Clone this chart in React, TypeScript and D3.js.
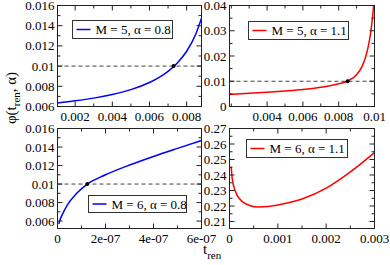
import React from 'react';
import * as d3 from 'd3';

// ---- data ----
// Top-left: M = 5, alpha = 0.8
const TL_T = [0.00105, 0.002, 0.003, 0.004, 0.005, 0.006, 0.0065, 0.007, 0.0075, 0.008, 0.0085, 0.0088];
const TL_PHI = [0.00635, 0.00656, 0.00683, 0.00719, 0.00767, 0.00838, 0.00886, 0.00948, 0.01031, 0.01147, 0.01321, 0.01475];
// Top-right: M = 5, alpha = 1.1
const TR_T = [0.0019, 0.003, 0.004, 0.005, 0.006, 0.007, 0.0075, 0.008, 0.0085, 0.009, 0.0093, 0.0095, 0.0097, 0.0098, 0.0099, 0.00995, 0.01];
const TR_PHI = [0.0048, 0.0052, 0.0056, 0.0061, 0.0067, 0.0076, 0.0082, 0.009, 0.0101, 0.0126, 0.0158, 0.0195, 0.0255, 0.03, 0.036, 0.04, 0.046];
// Bottom-left: M = 6, alpha = 0.8
const BL_T = [0.054e-7, 0.1e-7, 0.2e-7, 0.4e-7, 0.8e-7, 1.24e-7, 2e-7, 3e-7, 4e-7, 5e-7, 6e-7];
const BL_PHI = [0.0057, 0.0061, 0.0067, 0.0077, 0.009, 0.01, 0.011, 0.01205, 0.01298, 0.01385, 0.0147];
// Bottom-right: M = 6, alpha = 1.1
const BR_T = [0.000035, 0.000055, 0.000123, 0.000226, 0.00043, 0.0006, 0.0008, 0.001, 0.0015, 0.002, 0.0025, 0.003];
const BR_PHI = [0.2453, 0.238, 0.2293, 0.224, 0.2202, 0.2194, 0.2197, 0.2207, 0.2245, 0.2315, 0.242, 0.2545];

// intersection markers (t, phi)
const TL_DOT = [0.0073, 0.01];
const TR_DOT = [0.0085, 0.01];
const BL_DOT = [1.24e-7, 0.01];

// tick values and labels
const TL_XTICKS = [0.002, 0.004, 0.006, 0.008];
const TL_XLABELS = ['0.002', '0.004', '0.006', '0.008'];
const TL_YTICKS = [0.006, 0.008, 0.01, 0.012, 0.014, 0.016];
const TL_YLABELS = ['0.006', '0.008', '0.01', '0.012', '0.014', '0.016'];

const TR_XTICKS = [0.004, 0.006, 0.008, 0.01];
const TR_XLABELS = ['0.004', '0.006', '0.008', '0.01'];
const TR_YTICKS = [0, 0.01, 0.02, 0.03, 0.04];
const TR_YLABELS = ['0', '0.01', '0.02', '0.03', '0.04'];

const BL_XTICKS = [0, 2e-7, 4e-7, 6e-7];
const BL_XLABELS = ['0', '2e-07', '4e-07', '6e-07'];
const BL_YTICKS = [0.006, 0.008, 0.01, 0.012, 0.014, 0.016];
const BL_YLABELS = ['0.006', '0.008', '0.01', '0.012', '0.014', '0.016'];

const BR_XTICKS = [0, 0.001, 0.002, 0.003];
const BR_XLABELS = ['0', '0.001', '0.002', '0.003'];
const BR_YTICKS = [0.21, 0.22, 0.23, 0.24, 0.25, 0.26, 0.27];
const BR_YLABELS = ['0.21', '0.22', '0.23', '0.24', '0.25', '0.26', '0.27'];

const LEGENDS = ['M = 5, α = 0.8', 'M = 5, α = 1.1', 'M = 6, α = 0.8', 'M = 6, α = 1.1'];

const FONT = 'Liberation Serif';
const BLUE = '#0000ff';
const RED = '#ff0000';
const FRAME = '#222';

type PanelProps = {
  id: string;
  box: [number, number, number, number]; // x0, y0, x1, y1
  xDomain: [number, number];
  yDomain: [number, number];
  ts: number[];
  phis: number[];
  color: string;
  xTicks: number[];
  xLabels: string[];
  xMinorStep: number;
  yTicks: number[];
  yLabels: string[];
  yMinorStep: number;
  dashed: boolean;
  dot?: number[];
  legend: string;
  legendBox: [number, number, number, number];
};

function minorTicks(domain: [number, number], step: number, majors: number[]) {
  const out: number[] = [];
  const start = Math.ceil(domain[0] / step - 1e-9);
  const end = Math.floor(domain[1] / step + 1e-9);
  for (let i = start; i <= end; i++) {
    const v = i * step;
    if (!majors.some((m) => Math.abs(m - v) < step * 1e-3)) out.push(v);
  }
  return out;
}

function Panel(p: PanelProps) {
  const [x0, y0, x1, y1] = p.box;
  const xs = d3.scaleLinear().domain(p.xDomain).range([x0, x1]);
  const ys = d3.scaleLinear().domain(p.yDomain).range([y1, y0]);
  const line = d3
    .line<number>()
    .x((_, i) => xs(p.ts[i]))
    .y((d) => ys(d))
    .curve(d3.curveMonotoneX);
  const xMinor = minorTicks(p.xDomain, p.xMinorStep, p.xTicks);
  const yMinor = minorTicks(p.yDomain, p.yMinorStep, p.yTicks);
  const MAJ = 5;
  const MIN = 3;
  const [lx, ly, lw, lh] = p.legendBox;
  return (
    <g>
      <defs>
        <clipPath id={p.id}>
          <rect x={x0} y={y0} width={x1 - x0} height={y1 - y0} />
        </clipPath>
      </defs>
      {p.dashed && (
        <line
          x1={x0}
          x2={x1}
          y1={ys(0.01)}
          y2={ys(0.01)}
          stroke="#444"
          strokeWidth={1}
          strokeDasharray="4,3"
        />
      )}
      <path d={line(p.phis) || ''} fill="none" stroke={p.color} strokeWidth={1.5} clipPath={`url(#${p.id})`} />
      {p.dot && <circle cx={xs(p.dot[0])} cy={ys(p.dot[1])} r={2} fill="#000" />}
      <g stroke={FRAME} strokeWidth={1}>
        {p.xTicks.map((t, i) => (
          <g key={'xm' + i}>
            <line x1={xs(t)} x2={xs(t)} y1={y1} y2={y1 - MAJ} />
            <line x1={xs(t)} x2={xs(t)} y1={y0} y2={y0 + MAJ} />
          </g>
        ))}
        {xMinor.map((t, i) => (
          <g key={'xn' + i}>
            <line x1={xs(t)} x2={xs(t)} y1={y1} y2={y1 - MIN} />
            <line x1={xs(t)} x2={xs(t)} y1={y0} y2={y0 + MIN} />
          </g>
        ))}
        {p.yTicks.map((t, i) => (
          <g key={'ym' + i}>
            <line x1={x0} x2={x0 + MAJ} y1={ys(t)} y2={ys(t)} />
            <line x1={x1} x2={x1 - MAJ} y1={ys(t)} y2={ys(t)} />
          </g>
        ))}
        {yMinor.map((t, i) => (
          <g key={'yn' + i}>
            <line x1={x0} x2={x0 + MIN} y1={ys(t)} y2={ys(t)} />
            <line x1={x1} x2={x1 - MIN} y1={ys(t)} y2={ys(t)} />
          </g>
        ))}
      </g>
      <rect x={x0} y={y0} width={x1 - x0} height={y1 - y0} fill="none" stroke={FRAME} strokeWidth={1} />
      <g fontFamily={FONT} fontSize={13} fill="#000">
        {p.xTicks.map((t, i) => (
          <text key={'xl' + i} x={xs(t)} y={y1 + 14} textAnchor="middle">
            {p.xLabels[i]}
          </text>
        ))}
        {p.yTicks.map((t, i) => (
          <text key={'yl' + i} x={x0 - 3} y={ys(t) + 4.5} textAnchor="end">
            {p.yLabels[i]}
          </text>
        ))}
      </g>
      <rect x={lx} y={ly} width={lw} height={lh} fill="#fff" stroke="#333" strokeWidth={1} />
      <line x1={lx + 4} x2={lx + 18} y1={ly + lh / 2} y2={ly + lh / 2} stroke={p.color} strokeWidth={1.5} />
      <text x={lx + 23} y={ly + lh / 2 + 4.5} fontFamily={FONT} fontSize={13} fill="#000">
        {p.legend}
      </text>
    </g>
  );
}

export default function App() {
  return (
    <div style={{ position: 'absolute', left: 0, top: 0 }}>
      <svg width={390} height={265} viewBox="0 0 390 265" style={{ display: 'block', background: '#fff' }}>
        <rect x={0} y={0} width={390} height={265} fill="#fff" />
        <Panel
          id="c1"
          box={[57.5, 5.5, 201.5, 106.5]}
          xDomain={[0.00105, 0.0088]}
          yDomain={[0.006, 0.016]}
          ts={TL_T}
          phis={TL_PHI}
          color={BLUE}
          xTicks={TL_XTICKS}
          xLabels={TL_XLABELS}
          xMinorStep={0.001}
          yTicks={TL_YTICKS}
          yLabels={TL_YLABELS}
          yMinorStep={0.001}
          dashed={true}
          dot={TL_DOT}
          legend={LEGENDS[0]}
          legendBox={[72.5, 20.5, 100, 18]}
        />
        <Panel
          id="c2"
          box={[229.5, 5.5, 374.5, 106.5]}
          xDomain={[0.0019, 0.01]}
          yDomain={[0, 0.04]}
          ts={TR_T}
          phis={TR_PHI}
          color={RED}
          xTicks={TR_XTICKS}
          xLabels={TR_XLABELS}
          xMinorStep={0.001}
          yTicks={TR_YTICKS}
          yLabels={TR_YLABELS}
          yMinorStep={0.005}
          dashed={true}
          dot={TR_DOT}
          legend={LEGENDS[1]}
          legendBox={[248.5, 21.5, 100, 18]}
        />
        <Panel
          id="c3"
          box={[57.5, 128.5, 201.5, 228.5]}
          xDomain={[0, 6e-7]}
          yDomain={[0.0052, 0.016]}
          ts={BL_T}
          phis={BL_PHI}
          color={BLUE}
          xTicks={BL_XTICKS}
          xLabels={BL_XLABELS}
          xMinorStep={1e-7}
          yTicks={BL_YTICKS}
          yLabels={BL_YLABELS}
          yMinorStep={0.001}
          dashed={true}
          dot={BL_DOT}
          legend={LEGENDS[2]}
          legendBox={[88.5, 195.5, 98, 17]}
        />
        <Panel
          id="c4"
          box={[229.5, 128.5, 374.5, 228.5]}
          xDomain={[0, 0.003]}
          yDomain={[0.2055, 0.27]}
          ts={BR_T}
          phis={BR_PHI}
          color={RED}
          xTicks={BR_XTICKS}
          xLabels={BR_XLABELS}
          xMinorStep={0.0005}
          yTicks={BR_YTICKS}
          yLabels={BR_YLABELS}
          yMinorStep={0.005}
          dashed={false}
          legend={LEGENDS[3]}
          legendBox={[246.5, 139.5, 101, 18]}
        />
        <text transform="translate(16,98) rotate(-90)" textAnchor="middle" fontFamily={FONT} fontSize={15} fill="#000">
          φ(t
          <tspan fontSize={11} dy={4}>
            ren
          </tspan>
          <tspan dy={-4}>, α)</tspan>
        </text>
        <text x={203} y={254} fontFamily={FONT} fontSize={15} fill="#000">
          t
          <tspan fontSize={11} dy={5}>
            ren
          </tspan>
        </text>
      </svg>
    </div>
  );
}
